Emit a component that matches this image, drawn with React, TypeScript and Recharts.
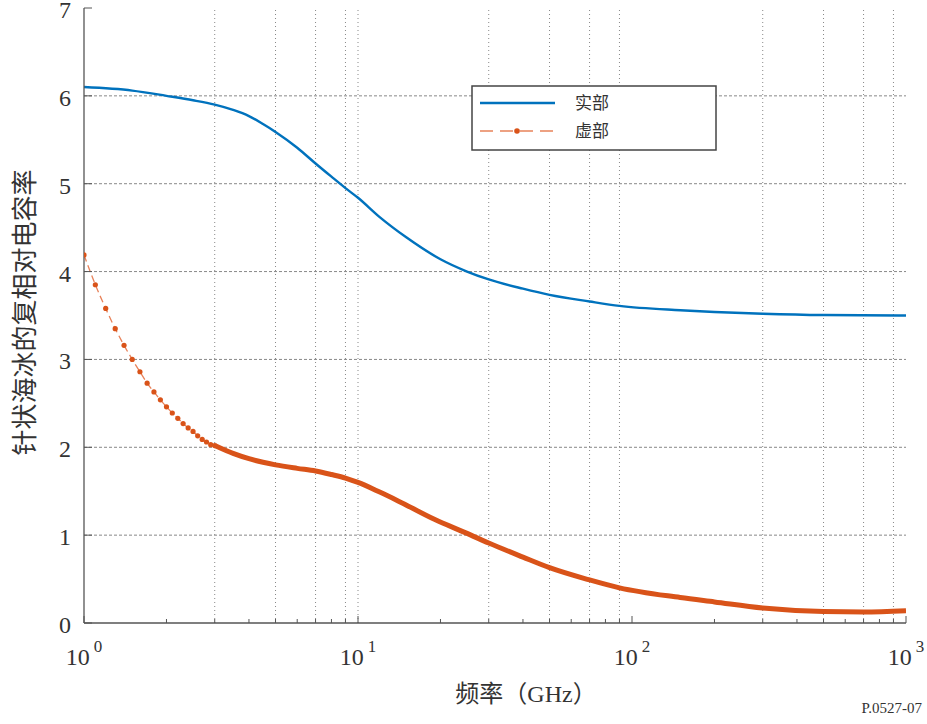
import {
  LineChart,
  Line,
  XAxis,
  YAxis,
  ReferenceLine,
} from "recharts";

// real part
const realFreq = [1, 1.5, 2, 2.5, 3, 3.5, 4, 4.5, 5, 6, 7, 8, 9, 10, 12, 15, 20, 25, 30, 40, 50, 70, 90, 150, 200, 300, 500, 1000];
const realVals = [6.1, 6.06, 6.0, 5.95, 5.9, 5.84, 5.77, 5.68, 5.59, 5.41, 5.23, 5.08, 4.95, 4.84, 4.62, 4.39, 4.14, 4.0, 3.91, 3.805, 3.735, 3.66, 3.61, 3.56, 3.54, 3.52, 3.505, 3.5];

// imaginary part, sampled points at the low end (markers visible)
const imagFineFreq = [1.0, 1.1, 1.2, 1.3, 1.4, 1.5, 1.6, 1.7, 1.8, 1.9, 2.0, 2.1, 2.2, 2.3, 2.4, 2.5, 2.6, 2.7, 2.8, 2.9, 3.0];
const imagFineVals = [4.19, 3.85, 3.58, 3.35, 3.16, 3.0, 2.86, 2.73, 2.63, 2.54, 2.46, 2.39, 2.33, 2.27, 2.22, 2.18, 2.13, 2.09, 2.06, 2.03, 2.02];

// imaginary part above 3 GHz (markers merge into a thick line)
const imagFreq = [3, 3.5, 4, 4.5, 5, 6, 7, 8, 9, 10, 12, 14, 19, 25, 30, 40, 50, 70, 90, 150, 200, 300, 500, 700, 1000];
const imagVals = [2.02, 1.93, 1.87, 1.83, 1.8, 1.76, 1.73, 1.69, 1.65, 1.6, 1.49, 1.39, 1.18, 1.02, 0.91, 0.75, 0.63, 0.49, 0.4, 0.29, 0.24, 0.17, 0.13, 0.125, 0.14];

const xTicks = [
  1, 2, 3, 4, 5, 6, 7, 8, 9,
  10, 20, 30, 40, 50, 60, 70, 80, 90,
  100, 200, 300, 400, 500, 600, 700, 800, 900, 1000,
];
const yTicks = [0, 1, 2, 3, 4, 5, 6, 7];
const gridX = [3, 5, 7, 9, 10, 30, 50, 70, 90, 300, 500, 700, 900];
const gridY = [1, 2, 3, 4, 5, 6];

const realData = realFreq.map((f, i) => ({ f, v: realVals[i] }));
const imagFineData = imagFineFreq.map((f, i) => ({ f, v: imagFineVals[i] }));
const imagData = imagFreq.map((f, i) => ({ f, v: imagVals[i] }));

const BLUE = "#0072BD";
const ORANGE = "#D95319";
const AXIS = "#555";
const TEXT = "#333";
const serif = "'Liberation Serif', 'Times New Roman', serif";
const cjk = "'Noto Sans CJK SC', sans-serif";

const isMajor = (v: number) => Math.abs(Math.log10(v) - Math.round(Math.log10(v))) < 1e-9;

const BottomTick = (props: any) => {
  const { x, y, payload } = props;
  const v = payload.value;
  const major = isMajor(v);
  return (
    <g>
      <line x1={x} x2={x} y1={y} y2={y - (major ? 7 : 4)} stroke={AXIS} strokeWidth={1} />
      {major && (
        <text x={x} y={y + 42} textAnchor="middle" fontFamily={serif} fontSize={24} fill={TEXT}>
          <tspan>10</tspan>
          <tspan dx={4} dy={-13} fontSize={17}>
            {Math.round(Math.log10(v))}
          </tspan>
        </text>
      )}
    </g>
  );
};

const TopTick = (props: any) => {
  const { x, y, payload } = props;
  const major = isMajor(payload.value);
  return <line x1={x} x2={x} y1={y} y2={y + (major ? 7 : 4)} stroke={AXIS} strokeWidth={1} />;
};

const LeftTick = (props: any) => {
  const { x, y, payload } = props;
  return (
    <g>
      <line x1={x} x2={x + 8} y1={y} y2={y} stroke={AXIS} strokeWidth={1} />
      <text x={x - 13} y={y + 10} textAnchor="end" fontFamily={serif} fontSize={24} fill={TEXT}>
        {payload.value}
      </text>
    </g>
  );
};

const RightTick = (props: any) => {
  const { x, y } = props;
  return <line x1={x - 8} x2={x} y1={y} y2={y} stroke={AXIS} strokeWidth={1} />;
};

function LegendBox() {
  return (
    <svg
      width={246}
      height={66}
      style={{ position: "absolute", left: 471, top: 85 }}
    >
      <rect x={1} y={1} width={244} height={64} fill="#fff" stroke="#444" strokeWidth={1.5} />
      <line x1={9} x2={84} y1={18} y2={18} stroke={BLUE} strokeWidth={2.5} />
      <text x={104} y={24} fontFamily={cjk} fontSize={17} fill={TEXT}>
        实部
      </text>
      <line x1={9} x2={84} y1={46} y2={46} stroke="#E8825A" strokeWidth={1.3} strokeDasharray="13 7" />
      <circle cx={46} cy={46} r={2.8} fill={ORANGE} />
      <text x={104} y={52} fontFamily={cjk} fontSize={17} fill={TEXT}>
        虚部
      </text>
    </svg>
  );
}

export default function App() {
  return (
    <div style={{ position: "absolute", left: 0, top: 0, width: 927, height: 724, background: "#fff" }}>
      <LineChart
        width={927}
        height={724}
        margin={{ top: 8, right: 21, left: 0, bottom: 0 }}
      >
        <XAxis
          dataKey="f"
          type="number"
          scale="log"
          domain={[1, 1000]}
          allowDataOverflow
          ticks={xTicks}
          interval={0}
          height={101}
          tickSize={0}
          tickMargin={0}
          tickLine={false}
          tick={<BottomTick />}
          axisLine={{ stroke: AXIS, strokeWidth: 1.3 }}
        />
        <XAxis
          xAxisId="top"
          orientation="top"
          type="number"
          scale="log"
          domain={[1, 1000]}
          allowDataOverflow
          ticks={xTicks}
          interval={0}
          height={0}
          tickSize={0}
          tickMargin={0}
          tickLine={false}
          tick={<TopTick />}
          axisLine={{ stroke: AXIS, strokeWidth: 1.3 }}
        />
        <YAxis
          type="number"
          domain={[0, 7]}
          ticks={yTicks}
          interval={0}
          width={84}
          tickSize={0}
          tickMargin={0}
          tickLine={false}
          tick={<LeftTick />}
          axisLine={{ stroke: AXIS, strokeWidth: 1.3 }}
        />
        <YAxis
          yAxisId="right"
          orientation="right"
          type="number"
          domain={[0, 7]}
          ticks={yTicks}
          interval={0}
          width={0}
          tickSize={0}
          tickMargin={0}
          tickLine={false}
          tick={<RightTick />}
          axisLine={{ stroke: AXIS, strokeWidth: 1.3 }}
        />
        {gridY.map((g) => (
          <ReferenceLine key={"gy" + g} y={g} stroke="#888" strokeWidth={1} strokeDasharray="3 2" />
        ))}
        {gridX.map((g) => (
          <ReferenceLine key={"gx" + g} x={g} stroke="#888" strokeWidth={1} strokeDasharray="1 3" />
        ))}
        <Line
          data={realData}
          dataKey="v"
          type="monotone"
          stroke={BLUE}
          strokeWidth={2.4}
          dot={false}
          isAnimationActive={false}
        />
        <Line
          data={imagData}
          dataKey="v"
          type="monotone"
          stroke={ORANGE}
          strokeWidth={5}
          dot={false}
          isAnimationActive={false}
        />
        <Line
          data={imagFineData}
          dataKey="v"
          type="monotone"
          stroke="#E8825A"
          strokeWidth={1.3}
          strokeDasharray="7 4"
          dot={{ r: 2.6, fill: ORANGE, stroke: "none" }}
          isAnimationActive={false}
        />
      </LineChart>
      <LegendBox />
      <div
        style={{
          position: "absolute",
          left: 0,
          top: 162,
          width: 44,
          height: 300,
          display: "flex",
          alignItems: "center",
          justifyContent: "center",
        }}
      >
        <div
          style={{
            transform: "rotate(-90deg)",
            whiteSpace: "nowrap",
            fontFamily: cjk,
            fontSize: 26,
            color: TEXT,
          }}
        >
          针状海冰的复相对电容率
        </div>
      </div>
      <div
        style={{
          position: "absolute",
          left: 376,
          top: 674,
          width: 300,
          textAlign: "center",
          fontFamily: "'Liberation Serif', 'Noto Sans CJK SC', serif",
          fontSize: 24,
          color: TEXT,
        }}
      >
        频率（GHz）
      </div>
      <div
        style={{
          position: "absolute",
          right: 5,
          top: 700,
          fontFamily: serif,
          fontSize: 15,
          color: TEXT,
        }}
      >
        P.0527-07
      </div>
    </div>
  );
}
